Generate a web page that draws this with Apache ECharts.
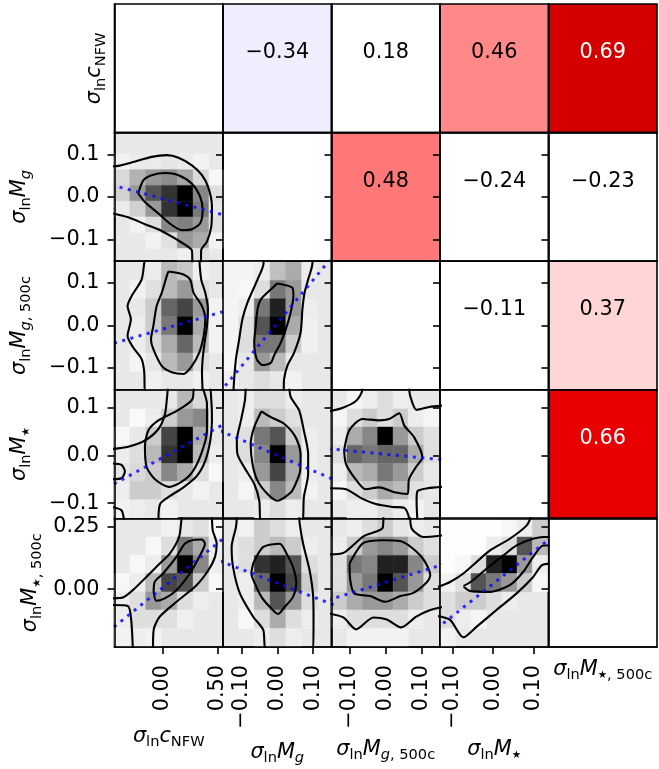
<!DOCTYPE html>
<html><head><meta charset="utf-8">
<script src="https://cdn.jsdelivr.net/npm/echarts@6.0.0/dist/echarts.min.js"></script>
<style>html,body{margin:0;padding:0;background:#fff;}#chart{width:659px;height:769px;}</style>
</head><body><div id="chart"></div>
<script>
// ---------------- data ----------------
// parameter order: c_NFW, M_g, M_g500c, M_star, M_star500c
const paramLabels = [
  '{it|σ}{sub|ln}{it|c}{sub|NFW}',
  '{it|σ}{sub|ln}{it|M}{subi|g}',
  '{it|σ}{sub|ln}{it|M}{subi|g}{sub|, 500c}',
  '{it|σ}{sub|ln}{it|M}{star|★}',
  '{it|σ}{sub|ln}{it|M}{star|★}{sub|, 500c}'
];
const paramRanges = [[-0.436, 0.545], [-0.151, 0.151], [-0.151, 0.150], [-0.132, 0.137], [-0.233, 0.285]];
const xTickValues = [[0, 0.5], [-0.1, 0, 0.1], [-0.1, 0, 0.1], [-0.1, 0, 0.1], []];
const yTickValues = [[], [-0.1, 0, 0.1], [-0.1, 0, 0.1], [-0.1, 0, 0.1], [0, 0.25]];
const yTickDecimals = [1, 1, 1, 1, 2];

// correlation coefficients (upper triangle): [row, col, r]
const correlations = [
  [0, 1, -0.34], [0, 2, 0.18], [0, 3, 0.46], [0, 4, 0.69],
  [1, 2, 0.48], [1, 3, -0.24], [1, 4, -0.23],
  [2, 3, -0.11], [2, 4, 0.37],
  [3, 4, 0.66]
];

// 2D histogram bin edges
const xBinEdges = [
  [-0.44, -0.297, -0.154, -0.011, 0.132, 0.275, 0.418, 0.561],
  [-0.152, -0.108, -0.064, -0.020, 0.024, 0.068, 0.112, 0.156],
  [-0.151, -0.108, -0.065, -0.023, 0.020, 0.062, 0.105, 0.148],
  [-0.131, -0.093, -0.055, -0.017, 0.021, 0.059, 0.097, 0.135],
  null
];
const yBinEdges = [
  null,
  [-0.158, -0.121, -0.084, -0.047, -0.010, 0.027, 0.064, 0.101, 0.138],
  [-0.151, -0.108, -0.065, -0.023, 0.020, 0.062, 0.105, 0.148],
  [-0.131, -0.093, -0.055, -0.017, 0.021, 0.059, 0.097, 0.135],
  [-0.231, -0.158, -0.084, -0.011, 0.063, 0.136, 0.21, 0.283]
];

// relative densities (rows listed from top to bottom)
const hist_1_0 = [
  [0, 0, 0, 0, 0, 0, 0],
  [0.05, 0.08, 0.08, 0.1, 0.08, 0.05, 0],
  [0.15, 0.3, 0.4, 0.45, 0.35, 0.15, 0.03],
  [0.18, 0.4, 0.67, 0.8, 1.0, 0.47, 0.12],
  [0.08, 0.18, 0.4, 0.8, 1.0, 0.53, 0.1],
  [0, 0.05, 0.13, 0.47, 0.5, 0.4, 0.12],
  [0, 0, 0.05, 0.12, 0.4, 0.33, 0.05],
  [0, 0, 0, 0, 0.06, 0.12, 0]
];
const hist_2_0 = [
  [0, 0, 0.08, 0.27, 0.22, 0.06, 0],
  [0, 0.05, 0.12, 0.27, 0.4, 0.13, 0],
  [0, 0.09, 0.2, 0.6, 0.73, 0.4, 0.05],
  [0, 0.07, 0.2, 0.53, 1.0, 0.33, 0.05],
  [0, 0.07, 0.15, 0.33, 0.6, 0.27, 0.05],
  [0, 0.04, 0.1, 0.27, 0.4, 0.13, 0],
  [0, 0, 0.06, 0.09, 0.09, 0.06, 0]
];
const hist_2_1 = [
  [0, 0, 0.07, 0.25, 0.33, 0.07, 0],
  [0, 0.03, 0.13, 0.53, 0.4, 0.09, 0],
  [0, 0.07, 0.53, 0.87, 0.4, 0.07, 0],
  [0, 0.12, 0.67, 1.0, 0.33, 0.06, 0],
  [0, 0.13, 0.53, 0.53, 0.2, 0.06, 0],
  [0.03, 0.09, 0.4, 0.27, 0.09, 0, 0],
  [0.06, 0.09, 0.13, 0.09, 0.05, 0, 0]
];
const hist_3_0 = [
  [0, 0, 0, 0.09, 0.28, 0.15, 0],
  [0, 0.02, 0.07, 0.2, 0.4, 0.47, 0.07],
  [0.03, 0.09, 0.2, 0.73, 1.0, 0.33, 0.09],
  [0.07, 0.13, 0.27, 0.8, 1.0, 0.27, 0.07],
  [0.1, 0.15, 0.2, 0.47, 0.33, 0.13, 0.03],
  [0.07, 0.2, 0.2, 0.13, 0.09, 0.05, 0],
  [0.05, 0.07, 0.09, 0.05, 0, 0, 0]
];
const hist_3_1 = [
  [0, 0.07, 0.13, 0.13, 0.07, 0, 0],
  [0, 0.07, 0.27, 0.2, 0.12, 0, 0],
  [0, 0.12, 0.53, 0.67, 0.2, 0.07, 0],
  [0, 0.13, 0.47, 1.0, 0.4, 0.07, 0],
  [0, 0.07, 0.4, 0.73, 0.33, 0.07, 0],
  [0, 0.04, 0.2, 0.47, 0.27, 0.05, 0],
  [0, 0, 0.07, 0.13, 0.07, 0, 0]
];
const hist_3_2 = [
  [0, 0.04, 0.07, 0.13, 0.07, 0, 0],
  [0.04, 0.13, 0.2, 0.13, 0.2, 0.07, 0.04],
  [0.07, 0.33, 0.47, 1.0, 0.4, 0.2, 0.12],
  [0.13, 0.6, 0.53, 0.6, 0.6, 0.33, 0.13],
  [0.07, 0.27, 0.33, 0.53, 0.4, 0.2, 0.09],
  [0.04, 0.13, 0.2, 0.33, 0.27, 0.12, 0],
  [0, 0.07, 0.07, 0.13, 0.07, 0.05, 0]
];
const hist_4_0 = [
  [0, 0, 0, 0.05, 0.09, 0.12, 0.03],
  [0, 0, 0.03, 0.13, 0.53, 0.33, 0.07],
  [0, 0.03, 0.07, 0.4, 1.0, 0.47, 0.07],
  [0.03, 0.07, 0.27, 0.73, 0.67, 0.2, 0.03],
  [0.07, 0.13, 0.4, 0.33, 0.13, 0.07, 0],
  [0.07, 0.13, 0.13, 0.12, 0.06, 0, 0],
  [0.05, 0.07, 0.05, 0, 0, 0, 0]
];
const hist_4_1 = [
  [0, 0.05, 0.2, 0.13, 0.07, 0, 0],
  [0, 0.13, 0.2, 0.27, 0.2, 0.07, 0],
  [0, 0.13, 0.8, 0.87, 0.67, 0.13, 0],
  [0, 0.07, 0.6, 1.0, 0.73, 0.2, 0],
  [0, 0.07, 0.27, 0.67, 0.4, 0.13, 0],
  [0, 0.03, 0.13, 0.33, 0.13, 0.07, 0],
  [0, 0, 0.07, 0.13, 0.07, 0, 0]
];
const hist_4_2 = [
  [0, 0.07, 0.13, 0.2, 0.1, 0.07, 0],
  [0.07, 0.2, 0.4, 0.47, 0.4, 0.2, 0.12],
  [0.13, 0.53, 0.47, 0.87, 0.87, 0.47, 0.2],
  [0.13, 0.4, 0.53, 1.0, 0.67, 0.4, 0.13],
  [0.2, 0.33, 0.4, 0.4, 0.33, 0.2, 0.13],
  [0.07, 0.13, 0.13, 0.13, 0.13, 0.07, 0],
  [0, 0.05, 0.05, 0.05, 0.05, 0, 0]
];
const hist_4_3 = [
  [0, 0, 0, 0, 0.03, 0.07, 0.2],
  [0, 0, 0, 0.07, 0.13, 0.67, 0.27],
  [0, 0.03, 0.13, 0.87, 1.0, 0.4, 0.07],
  [0.05, 0.13, 0.67, 0.53, 0.4, 0.2, 0.03],
  [0.13, 0.2, 0.2, 0.13, 0.07, 0, 0],
  [0.13, 0.07, 0.04, 0, 0, 0, 0],
  [0.05, 0, 0, 0, 0, 0, 0]
];

// density contours [x, y]
const contours_1_0 = [
  [[-0.448,-0.039],[-0.312,-0.048],[-0.161,-0.064],[-0.009,-0.080],[0.127,-0.100],[0.218,-0.115],[0.264,-0.126],[0.27,-0.16],[0.345,-0.16],[0.348,-0.125],[0.4,-0.105],[0.439,-0.070],[0.445,-0.023],[0.415,0.020],[0.355,0.051],[0.264,0.074],[0.143,0.092],[0.036,0.098],[-0.1,0.094],[-0.282,0.081],[-0.434,0.072],[-0.46,0.072]],
  [[-0.221,0.008],[-0.176,0.039],[-0.1,0.051],[0.021,0.056],[0.143,0.051],[0.264,0.031],[0.339,0.0],[0.361,-0.031],[0.339,-0.062],[0.264,-0.076],[0.173,-0.078],[0.082,-0.066],[-0.039,-0.039],[-0.161,-0.012],[-0.221,0.008]]
];
const contours_2_0 = [
  [[-0.161,0.157],[-0.167,0.146],[-0.191,0.107],[-0.282,0.068],[-0.318,0.045],[-0.288,0.014],[-0.318,-0.025],[-0.267,-0.052],[-0.191,-0.079],[-0.167,-0.110],[-0.161,-0.157],[0.361,-0.157],[0.355,-0.110],[0.361,-0.079],[0.379,-0.040],[0.4,-0.002],[0.409,0.037],[0.385,0.076],[0.348,0.107],[0.33,0.157]],
  [[0.052,0.126],[0.188,0.119],[0.248,0.107],[0.279,0.076],[0.355,0.045],[0.385,0.014],[0.37,-0.025],[0.33,-0.064],[0.264,-0.095],[0.188,-0.114],[0.082,-0.110],[-0.009,-0.095],[-0.085,-0.056],[-0.106,-0.033],[-0.085,-0.002],[-0.055,0.045],[-0.009,0.076],[0.036,0.115],[0.052,0.126]]
];
const contours_2_1 = [
  [[-0.038,0.157],[-0.038,0.146],[-0.055,0.107],[-0.083,0.053],[-0.097,0.014],[-0.106,-0.033],[-0.115,-0.079],[-0.12,-0.126],[-0.122,-0.157],[0.017,-0.157],[0.019,-0.126],[0.028,-0.095],[0.047,-0.064],[0.065,-0.017],[0.07,0.037],[0.076,0.076],[0.086,0.107],[0.098,0.146],[0.098,0.157]],
  [[0.0,0.098],[0.042,0.088],[0.045,0.068],[0.037,0.029],[0.024,-0.009],[0.01,-0.040],[-0.009,-0.071],[-0.018,-0.088],[-0.041,-0.093],[-0.057,-0.079],[-0.064,-0.040],[-0.06,-0.002],[-0.055,0.037],[-0.046,0.060],[-0.023,0.080],[0.0,0.098]]
];
const contours_3_0 = [
  [[-0.464,0.013],[-0.312,0.018],[-0.161,0.031],[-0.039,0.055],[0.021,0.087],[0.045,0.136],[0.052,0.146],[0.415,0.146],[0.439,0.115],[0.445,0.073],[0.43,0.031],[0.385,-0.011],[0.309,-0.043],[0.188,-0.067],[0.067,-0.085],[-0.024,-0.102],[-0.039,-0.14]],
  [[0.279,0.146],[0.27,0.118],[0.143,0.095],[-0.039,0.073],[-0.13,0.052],[-0.161,0.018],[-0.145,-0.025],[-0.07,-0.050],[0.052,-0.066],[0.158,-0.057],[0.264,-0.036],[0.348,0.003],[0.4,0.052],[0.4,0.108],[0.37,0.136],[0.361,0.146]],
  [[-0.464,-0.017],[-0.373,-0.020],[-0.342,-0.034],[-0.373,-0.048],[-0.464,-0.050]],
  [[-0.464,-0.108],[-0.373,-0.115],[-0.348,-0.14]]
];
const contours_3_1 = [
  [[-0.0875,0.146],[-0.09,0.115],[-0.101,0.073],[-0.1125,0.031],[-0.111,0.003],[-0.092,-0.025],[-0.064,-0.060],[-0.05,-0.095],[-0.046,-0.14],[0.07,-0.14],[0.074,-0.088],[0.086,-0.039],[0.086,0.003],[0.074,0.052],[0.061,0.094],[0.0375,0.122],[0.033,0.146]],
  [[-0.044,0.092],[-0.018,0.080],[0.019,0.066],[0.051,0.038],[0.065,0.003],[0.064,-0.032],[0.051,-0.060],[0.0375,-0.078],[0.0,-0.095],[-0.027,-0.081],[-0.055,-0.053],[-0.069,-0.018],[-0.074,0.024],[-0.064,0.059],[-0.044,0.092]]
];
const contours_3_2 = [
  [[-0.158,0.092],[-0.121,0.099],[-0.084,0.113],[-0.067,0.132],[-0.065,0.146]],
  [[0.064,0.146],[0.067,0.125],[0.085,0.095],[0.12,0.101],[0.157,0.104]],
  [[-0.158,-0.069],[-0.111,-0.071],[-0.07,-0.089],[-0.028,-0.102],[0.018,-0.108],[0.051,-0.110],[0.0625,-0.126],[0.064,-0.14]],
  [[0.0875,-0.14],[0.085,-0.095],[0.0875,-0.075],[0.115,-0.069],[0.157,-0.066]],
  [[-0.116,0.010],[-0.102,0.052],[-0.065,0.076],[-0.019,0.073],[0.009,0.076],[0.037,0.088],[0.051,0.062],[0.078,0.038],[0.101,-0.004],[0.083,-0.025],[0.064,-0.050],[0.06,-0.081],[0.0275,-0.078],[-0.019,-0.067],[-0.056,-0.071],[-0.088,-0.046],[-0.111,-0.018],[-0.116,0.010]]
];
const contours_4_0 = [
  [[-0.452,-0.037],[-0.355,-0.033],[-0.27,-0.004],[-0.148,0.049],[-0.027,0.103],[0.064,0.143],[0.148,0.21],[0.17,0.283],[0.173,0.297]],
  [[0.445,0.297],[0.452,0.237],[0.488,0.183],[0.473,0.13],[0.412,0.076],[0.306,0.016],[0.124,-0.051],[-0.027,-0.111],[-0.082,-0.164],[-0.088,-0.245]],
  [[-0.452,-0.064],[-0.315,-0.068],[-0.285,-0.124],[-0.27,-0.245]],
  [[-0.082,-0.011],[-0.073,0.029],[0.003,0.063],[0.124,0.13],[0.2,0.183],[0.291,0.199],[0.352,0.2],[0.382,0.183],[0.33,0.13],[0.245,0.063],[0.124,-0.004],[0.018,-0.037],[-0.058,-0.047],[-0.082,-0.011]]
];
const contours_4_1 = [
  [[-0.112,0.297],[-0.115,0.25],[-0.127,0.17],[-0.123,0.089],[-0.104,-0.017],[-0.067,-0.111],[-0.039,-0.164],[-0.03,-0.245],[0.1,-0.245],[0.101,-0.124],[0.1,-0.031],[0.09,0.076],[0.072,0.183],[0.0625,0.263],[0.061,0.297]],
  [[-0.067,0.103],[-0.039,0.17],[0.007,0.183],[0.026,0.143],[0.044,0.089],[0.053,0.023],[0.044,-0.031],[0.021,-0.071],[0.002,-0.1],[-0.021,-0.071],[-0.044,-0.031],[-0.0625,0.023],[-0.072,0.063],[-0.067,0.103]]
];
const contours_4_2 = [
  [[-0.16,0.140],[-0.118,0.146],[-0.0625,0.213],[-0.009,0.247],[-0.007,0.297]],
  [[0.067,0.297],[0.072,0.243],[0.104,0.21],[0.16,0.217]],
  [[-0.16,-0.098],[-0.118,-0.114],[-0.083,-0.162],[-0.035,-0.114],[0.0025,-0.122],[0.042,-0.154],[0.084,-0.111],[0.123,-0.084],[0.16,-0.071]],
  [[-0.101,0.103],[-0.0625,0.186],[-0.007,0.197],[0.039,0.194],[0.072,0.167],[0.106,0.116],[0.123,0.056],[0.114,0.029],[0.076,-0.015],[0.04,-0.028],[-0.002,-0.051],[-0.044,-0.028],[-0.088,-0.017],[-0.099,0.036],[-0.101,0.103]]
];
const contours_4_3 = [
  [[-0.14,0.007],[-0.107,0.029],[-0.074,0.063],[-0.041,0.11],[-0.008,0.156],[0.041,0.203],[0.083,0.257],[0.095,0.297]],
  [[-0.14,-0.108],[-0.107,-0.124],[-0.074,-0.194],[-0.041,-0.151],[0.008,-0.084],[0.058,-0.017],[0.099,0.049],[0.12,0.096],[0.141,0.103]],
  [[-0.074,0.012],[-0.05,0.036],[-0.016,0.083],[0.025,0.136],[0.058,0.176],[0.091,0.199],[0.124,0.21],[0.145,0.21],[0.145,0.176],[0.124,0.176],[0.099,0.13],[0.074,0.069],[0.041,0.016],[-0.008,-0.011],[-0.058,-0.007],[-0.074,0.012]]
];

// sparse (nearly empty) regions of the point cloud
const sparse_2_1 = [[-0.151,0.151],[-0.038,0.151],[-0.055,0.107],[-0.083,0.053],[-0.097,0.014],[-0.106,-0.033],[-0.115,-0.079],[-0.12,-0.126],[-0.122,-0.151],[-0.151,-0.151]];
const sparse_4_3 = [[-0.132,0.0],[-0.107,0.029],[-0.074,0.063],[-0.041,0.11],[-0.008,0.156],[0.041,0.203],[0.083,0.257],[0.095,0.285],[-0.132,0.285]];

// linear fits: two end points
const fit_1_0 = [[-0.39, 0.023], [0.56, -0.043]];
const fit_2_0 = [[-0.44, -0.042], [0.56, 0.033]];
const fit_2_1 = [[-0.16, -0.157], [0.16, 0.167]];
const fit_3_0 = [[-0.44, -0.060], [0.56, 0.066]];
const fit_3_1 = [[-0.16, 0.0515], [0.16, -0.0516]];
const fit_3_2 = [[-0.16, 0.0138], [0.16, -0.0095]];
const fit_4_0 = [[-0.44, -0.152], [0.56, 0.208]];
const fit_4_1 = [[-0.16, 0.1136], [0.16, -0.0647]];
const fit_4_2 = [[-0.16, -0.0438], [0.16, 0.0999]];
const fit_4_3 = [[-0.124, -0.138], [0.14, 0.203]];

const lowerPanels = [
  {row: 1, col: 0, hist: hist_1_0, contours: contours_1_0, fit: fit_1_0},
  {row: 2, col: 0, hist: hist_2_0, contours: contours_2_0, fit: fit_2_0},
  {row: 2, col: 1, hist: hist_2_1, contours: contours_2_1, fit: fit_2_1, sparse: sparse_2_1},
  {row: 3, col: 0, hist: hist_3_0, contours: contours_3_0, fit: fit_3_0},
  {row: 3, col: 1, hist: hist_3_1, contours: contours_3_1, fit: fit_3_1},
  {row: 3, col: 2, hist: hist_3_2, contours: contours_3_2, fit: fit_3_2},
  {row: 4, col: 0, hist: hist_4_0, contours: contours_4_0, fit: fit_4_0},
  {row: 4, col: 1, hist: hist_4_1, contours: contours_4_1, fit: fit_4_1},
  {row: 4, col: 2, hist: hist_4_2, contours: contours_4_2, fit: fit_4_2},
  {row: 4, col: 3, hist: hist_4_3, contours: contours_4_3, fit: fit_4_3, sparse: sparse_4_3}
];

// ---------------- layout & style ----------------
const FONT = 'DejaVu Sans';
const FS = 20.8;
const X0 = 114.5, Y0 = 4, CW = 108.5, CH = 128.6;
const SCATTER_BG = '#e8e8e8';
const SPARSE_FILL = ['#f4f4f4', '#fdfdfd'];
const xNameGap = [76, 92, 89, 89, 9];
const yNameGap = [6, 81, 81, 81, 70];

const RICH = {
  it: {fontFamily: FONT, fontStyle: 'italic', fontSize: FS, color: '#000'},
  sub: {fontFamily: FONT, fontSize: 14.6, padding: [12, 0, 0, 0], color: '#000'},
  subi: {fontFamily: FONT, fontStyle: 'italic', fontSize: 14.6, padding: [12, 0, 0, 0], color: '#000'},
  star: {fontFamily: FONT, fontSize: 10.5, padding: [12, 0, 0, 0], color: '#000'}
};

function fmt(v, d) {
  return (v < -1e-9 ? '\u2212' : '') + Math.abs(v).toFixed(d);
}
function corrColor(r) {
  const a = Math.abs(r);
  const t = Math.min(1, Math.max(0, (a - 0.32) / 0.30));
  const k = Math.min(1, Math.max(0, (a - 0.626) * 5.3));
  let R, G, B;
  if (r >= 0) { R = 255 - 127 * k; G = 255 * (1 - t); B = 255 * (1 - t); }
  else { R = 255 * (1 - t); G = 255 * (1 - t); B = 255 - 127 * k; }
  return 'rgb(' + Math.round(R) + ',' + Math.round(G) + ',' + Math.round(B) + ')';
}
function grayOf(v) {
  const g = Math.round(255 * (1 - v));
  return 'rgb(' + g + ',' + g + ',' + g + ')';
}

const grids = [], xAxes = [], yAxes = [], series = [];
const corrMap = {};
correlations.forEach(c => { corrMap[c[0] + '_' + c[1]] = c[2]; });

for (let i = 0; i < 5; i++) {
  for (let j = 0; j < 5; j++) {
    const k = i * 5 + j;
    let bg = '#ffffff';
    if (i > j) bg = SCATTER_BG;
    else if (j > i) bg = corrColor(corrMap[i + '_' + j]);
    grids.push({
      left: X0 + j * CW, top: Y0 + i * CH, width: CW, height: CH,
      show: true, backgroundColor: bg, borderColor: '#000', borderWidth: 1.6,
      containLabel: false, outerBoundsMode: 'none'
    });
    const showX = (i === 4 && j < 4);
    xAxes.push({
      gridIndex: k, type: 'value', min: paramRanges[j][0], max: paramRanges[j][1], z: 6,
      axisLine: {show: true, onZero: false, lineStyle: {color: '#000', width: 1.6}},
      axisTick: {show: showX, length: 7, lineStyle: {color: '#000', width: 1.6}, customValues: xTickValues[j]},
      axisLabel: {show: showX, customValues: xTickValues[j], rotate: 90, margin: 18,
        formatter: v => fmt(v, 2), color: '#000', fontSize: FS, fontFamily: FONT},
      splitLine: {show: false},
      name: i === 4 ? paramLabels[j] : '', nameLocation: 'middle', nameGap: xNameGap[j],
      nameMoveOverlap: false,
      nameTextStyle: {rich: RICH, color: '#000', fontFamily: FONT, fontSize: FS}
    });
    const showYTick = i >= 1;
    const showYLab = (j === 0 && i >= 1);
    yAxes.push({
      gridIndex: k, type: 'value', min: paramRanges[i][0], max: paramRanges[i][1], z: 6,
      axisLine: {show: true, onZero: false, lineStyle: {color: '#000', width: 1.6}},
      axisTick: {show: showYTick, length: 7, lineStyle: {color: '#000', width: 1.6}, customValues: yTickValues[i]},
      axisLabel: {show: showYLab, customValues: yTickValues[i], margin: 15,
        formatter: v => fmt(v, yTickDecimals[i]), color: '#000', fontSize: FS, fontFamily: FONT},
      splitLine: {show: false},
      name: j === 0 ? paramLabels[i] : '', nameLocation: 'middle', nameRotate: 90, nameGap: yNameGap[i],
      nameMoveOverlap: false,
      nameTextStyle: {rich: RICH, color: '#000', fontFamily: FONT, fontSize: FS}
    });
  }
}

// correlation texts
correlations.forEach(c => {
  const i = c[0], j = c[1], r = c[2];
  const k = i * 5 + j;
  const xm = (paramRanges[j][0] + paramRanges[j][1]) / 2;
  const ym = (paramRanges[i][0] + paramRanges[i][1]) / 2;
  series.push({
    type: 'custom', xAxisIndex: k, yAxisIndex: k, silent: true, z: 4,
    data: [[xm, ym, r]],
    renderItem: (params, api) => {
      const p = api.coord([api.value(0), api.value(1)]);
      const val = api.value(2);
      return {type: 'text', x: p[0], y: p[1] - 15.5,
        style: {text: fmt(val, 2), fill: Math.abs(val) > 0.6 ? '#fff' : '#000',
          font: FS + 'px "' + FONT + '"', align: 'center', verticalAlign: 'middle'}};
    }
  });
});

// lower panels
lowerPanels.forEach(p => {
  const k = p.row * 5 + p.col;
  if (p.sparse) {
    const fill = p.col === 1 ? SPARSE_FILL[0] : SPARSE_FILL[1];
    series.push({
      type: 'custom', xAxisIndex: k, yAxisIndex: k, silent: true, clip: true, z: 1,
      data: [[0, 0]],
      renderItem: (params, api) => ({type: 'polygon', shape: {points: p.sparse.map(q => api.coord(q))},
        style: {fill: fill}})
    });
  }
  const xe = xBinEdges[p.col], ye = yBinEdges[p.row];
  const nR = ye.length - 1;
  const cells = [];
  p.hist.forEach((rowVals, r) => {
    rowVals.forEach((v, c) => {
      if (v > 0) cells.push([xe[c], xe[c + 1], ye[nR - 1 - r], ye[nR - r], v]);
    });
  });
  series.push({
    type: 'custom', xAxisIndex: k, yAxisIndex: k, silent: true, clip: true, z: 2,
    encode: {x: [0, 1], y: [2, 3]},
    data: cells,
    renderItem: (params, api) => {
      const a = api.coord([api.value(0), api.value(3)]);
      const b = api.coord([api.value(1), api.value(2)]);
      const col = grayOf(api.value(4));
      return {type: 'rect', shape: {x: a[0], y: a[1], width: b[0] - a[0], height: b[1] - a[1]},
        style: {fill: col, stroke: col, lineWidth: 0.5}};
    }
  });
  p.contours.forEach(cnt => {
    series.push({
      type: 'line', xAxisIndex: k, yAxisIndex: k, data: cnt, silent: true, clip: true, z: 3,
      symbol: 'none', showSymbol: false, smooth: 0.25,
      lineStyle: {color: '#000', width: 2.1}
    });
  });
  series.push({
    type: 'line', xAxisIndex: k, yAxisIndex: k, data: p.fit, silent: true, clip: true, z: 4,
    symbol: 'none', showSymbol: false,
    lineStyle: {color: 'rgba(10,10,255,0.85)', width: 3, type: [3, 5.5]}
  });
});

const chart = echarts.init(document.getElementById('chart'), null, {renderer: 'canvas'});
chart.setOption({
  animation: false,
  backgroundColor: '#ffffff',
  grid: grids, xAxis: xAxes, yAxis: yAxes, series: series
});
</script></body></html>
